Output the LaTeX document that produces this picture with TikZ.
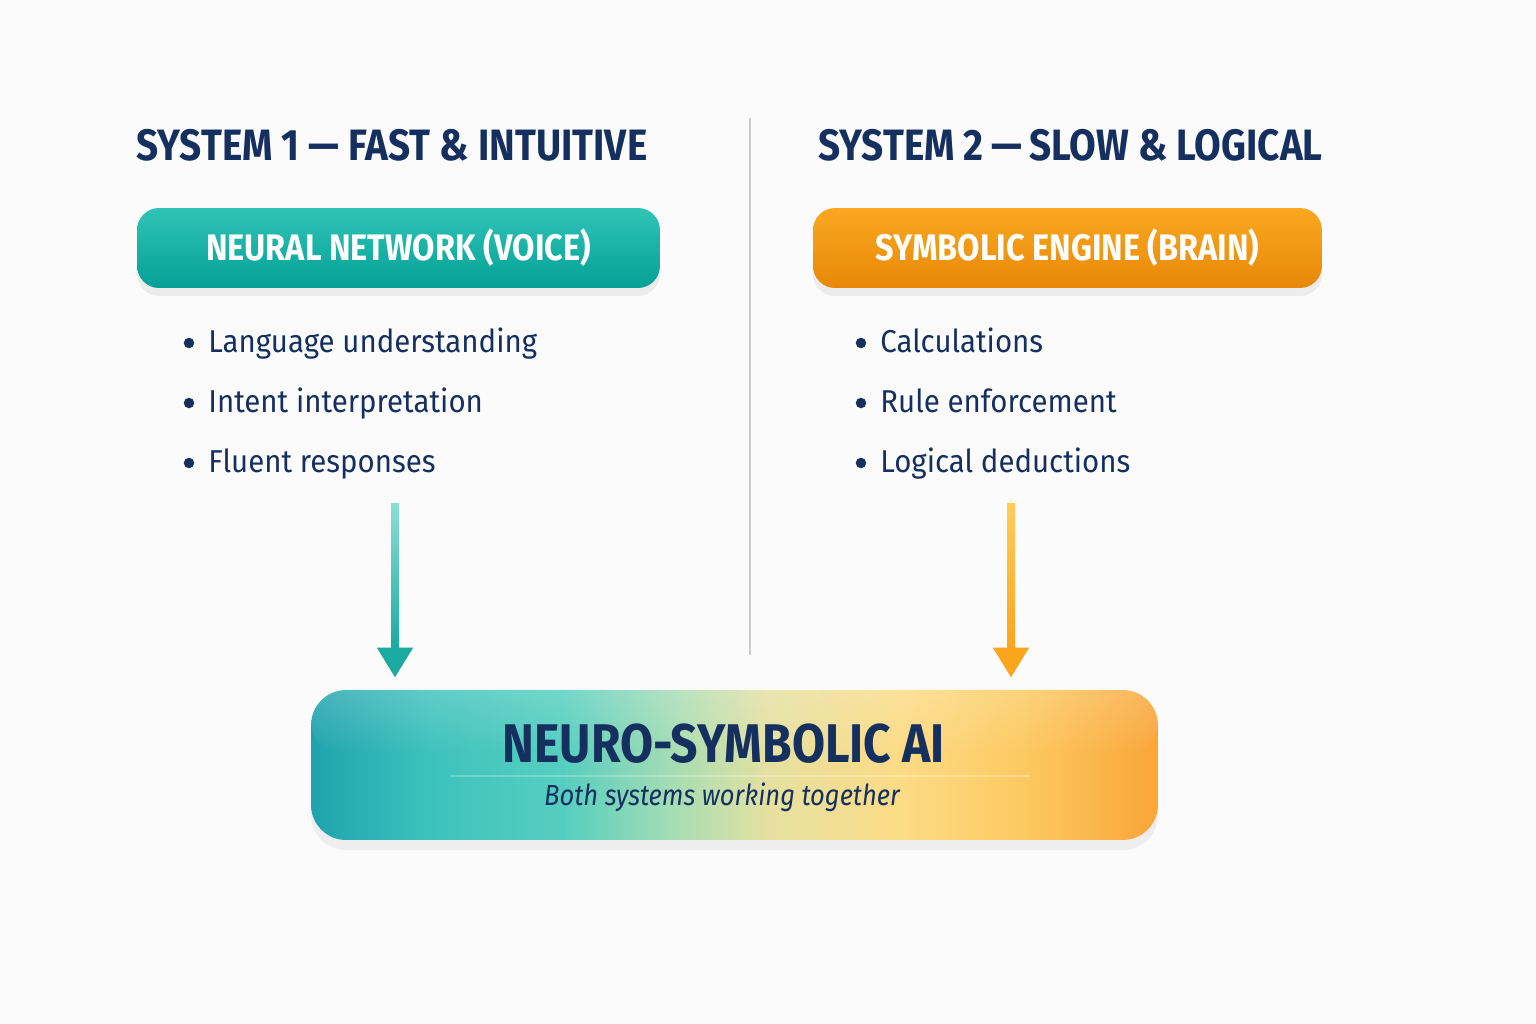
\documentclass[tikz,border=0pt]{standalone}
\usepackage{fontspec}
\setmainfont{Fira Sans}
\newfontfamily\headfont{Fira Sans}[FakeStretch=0.88]
\newfontfamily\itemfont{Fira Sans}[FakeStretch=0.93]
\usepackage{tikz}
\usetikzlibrary{arrows.meta,calc,shadows,positioning,fadings}

\definecolor{navy}{RGB}{21,48,95}
\definecolor{tealtop}{RGB}{48,196,182}
\definecolor{tealbot}{RGB}{4,160,150}
\definecolor{orgtop}{RGB}{250,168,32}
\definecolor{orgbot}{RGB}{232,136,8}
\definecolor{tealarrow}{RGB}{26,170,160}
\definecolor{tealpale}{RGB}{140,222,212}
\definecolor{orgarrow}{RGB}{250,165,28}
\definecolor{orgpale}{RGB}{255,204,90}
\definecolor{paper}{RGB}{251,251,251}

% the path is mapped onto 25bp--75bp
\pgfdeclarehorizontalshading{neurosym}{100bp}{
  rgb(0bp)=(0.12,0.64,0.68);
  rgb(25bp)=(0.12,0.64,0.68);
  rgb(32bp)=(0.24,0.76,0.74);
  rgb(40bp)=(0.34,0.81,0.75);
  rgb(47bp)=(0.68,0.87,0.70);
  rgb(52bp)=(0.90,0.88,0.63);
  rgb(60bp)=(0.99,0.86,0.52);
  rgb(67bp)=(0.99,0.79,0.38);
  rgb(75bp)=(0.98,0.65,0.22);
  rgb(100bp)=(0.98,0.65,0.22)}

\tikzset{
  systitle/.style={anchor=base west, text=navy, font=\headfont\bfseries\fontsize{25}{30}\selectfont, inner sep=0pt},
  pillbox/.style={rounded corners=0.44cm, minimum height=1.6cm, inner sep=0pt,
    text=white, font=\headfont\bfseries\fontsize{21}{25}\selectfont,
    drop shadow={opacity=0.12, shadow xshift=0pt, shadow yshift=-1.6mm}},
  neuralbox/.style={pillbox, minimum width=10.46cm, top color=tealtop, bottom color=tealbot},
  symbolbox/.style={pillbox, minimum width=10.18cm, top color=orgtop, bottom color=orgbot},
  item/.style={anchor=base west, text=navy, font=\itemfont\fontsize{18}{22}\selectfont, inner sep=0pt},
  dot/.style={circle, fill=navy, inner sep=0pt, minimum size=0.21cm},
  flow/.style={line width=0.16cm, shorten >=0.24cm, -{Triangle[width=0.68cm,length=0.6cm]}},
}

\begin{document}
\begin{tikzpicture}[x=0.02cm, y=-0.02cm]
\fill[paper] (0,0) rectangle (1536,1024);
\useasboundingbox (0,0) rectangle (1536,1024);

% divider between the two systems
\draw[black!20, line width=0.6pt] (750,118) -- (750,655);

% headings
\node[systitle] (sys1) at (136,161) {SYSTEM 1 — FAST \& INTUITIVE};
\node[systitle] (sys2) at (818,161) {SYSTEM 2\,—\,SLOW \& LOGICAL};

% the two engines
\node[neuralbox] (neural) at (398.5,248) {NEURAL NETWORK (VOICE)};
\node[symbolbox] (symbolic) at (1067.5,248) {SYMBOLIC ENGINE (BRAIN)};

% bullet lists
\foreach \t [count=\i] in {Language understanding, Intent interpretation, Fluent responses}{
    \node[dot] (ld\i) at (189,283+60*\i) {};
    \node[item] (l\i) at (208,292+60*\i) {\t};
}
\foreach \t [count=\i] in {Calculations, Rule enforcement, Logical deductions}{
    \node[dot] (rd\i) at (861,283+60*\i) {};
    \node[item] (r\i) at (880,292+60*\i) {\t};
}

% combined system
\node[rounded corners=0.7cm, minimum width=16.94cm, minimum height=3cm, shading=neurosym,
      drop shadow={opacity=0.1, shadow xshift=0pt, shadow yshift=-2mm}] (neuro) at (734.5,765) {};
\fill[white, opacity=0.18, path fading=south, rounded corners=0.7cm]
    (neuro.north west) rectangle ($(neuro.east)+(0,-10)$);
\draw[white, opacity=0.25, line width=1pt] (450,776) -- (1030,776);
\node[text=navy, font=\headfont\bfseries\fontsize{31}{36}\selectfont] (ntitle) at (724,744) {NEURO-SYMBOLIC AI};
\node[text=navy, font=\headfont\itshape\fontsize{16.5}{20}\selectfont] (nsub) at (722,797) {Both systems working together};

% flows into the combined system
\coordinate (f1) at (395,503);
\coordinate (f2) at (1011,503);
\draw[flow, tealarrow] (f1) -- (f1 |- neuro.north);
\shade[top color=tealpale, bottom color=tealarrow] ($(f1)+(-4,0)$) rectangle (399,650);
\draw[flow, orgarrow] (f2) -- (f2 |- neuro.north);
\shade[top color=orgpale, bottom color=orgarrow] ($(f2)+(-4,0)$) rectangle (1015,650);
\end{tikzpicture}
\end{document}
